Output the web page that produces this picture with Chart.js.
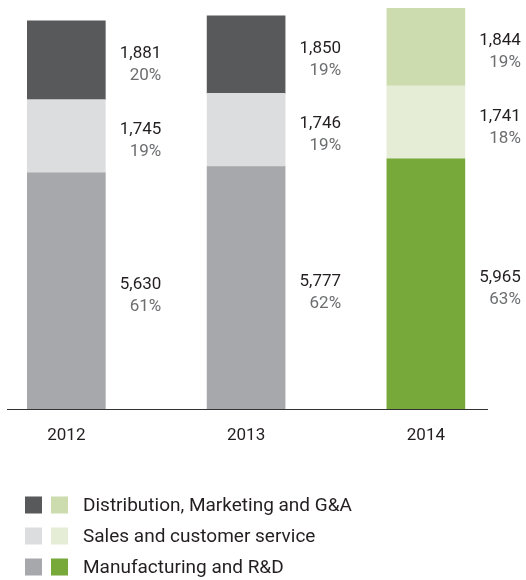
<!DOCTYPE html>
<html>
<head>
<meta charset="utf-8">
<script src="https://cdn.jsdelivr.net/npm/chart.js@4/dist/chart.umd.min.js"></script>
<style>
  html, body { margin: 0; padding: 0; background: #fff; }
  #wrap { width: 526px; height: 580px; position: relative; }
</style>
</head>
<body>
<div id="wrap"><canvas id="c"></canvas></div>
<script>
// Cost breakdown by year (values and their share of the yearly total)
const years = ['2012', '2013', '2014'];
const seriesNames = ['Manufacturing and R&D', 'Sales and customer service', 'Distribution, Marketing and G&A'];
const manufacturing = [5630, 5777, 5965];
const sales = [1745, 1746, 1741];
const distribution = [1881, 1850, 1844];
const manufacturingPct = [61, 62, 63];
const salesPct = [19, 19, 18];
const distributionPct = [20, 19, 19];

// Grey shades for earlier years, green shades for the latest year
const greyShades = ['#a7a8ab', '#dcdddf', '#58595b'];
const greenShades = ['#76a83a', '#e5edd6', '#cddcae'];
const FONT = 'Roboto, "Open Sans", sans-serif';

const seriesValues = [manufacturing, sales, distribution];
const seriesPcts = [manufacturingPct, salesPct, distributionPct];

const datasets = seriesValues.map((vals, s) => ({
  label: seriesNames[s],
  data: vals.map((v, i) => ({ x: i, y: v })),
  pct: seriesPcts[s],
  backgroundColor: years.map((y, i) => i === years.length - 1 ? greenShades[s] : greyShades[s]),
  legendColors: [greyShades[s], greenShades[s]],
  borderWidth: 0,
  barThickness: 78
}));

// Value + percentage written to the right of every segment
const segmentLabels = {
  id: 'segmentLabels',
  afterDatasetsDraw(chart) {
    const ctx = chart.ctx;
    ctx.save();
    ctx.textAlign = 'right';
    ctx.textBaseline = 'middle';
    chart.data.datasets.forEach((ds, di) => {
      const meta = chart.getDatasetMeta(di);
      meta.data.forEach((el, i) => {
        const x = el.x + el.width / 2 + 56;
        const yc = (el.y + el.base) / 2;
        ctx.font = '17px ' + FONT;
        ctx.fillStyle = '#231f20';
        ctx.fillText(ds.data[i].y.toLocaleString('en-US'), x, yc - 6);
        ctx.fillStyle = '#6d6e70';
        ctx.fillText(ds.pct[i] + '%', x, yc + 16);
      });
    });
    ctx.restore();
  }
};

// Legend with a grey and a green swatch per series, top series first
const dualLegend = {
  id: 'dualLegend',
  afterDraw(chart) {
    const ctx = chart.ctx;
    ctx.save();
    ctx.font = '19px ' + FONT;
    ctx.textBaseline = 'middle';
    ctx.textAlign = 'left';
    const items = chart.data.datasets.slice().reverse();
    items.forEach((ds, r) => {
      const cy = 505 + r * 31;
      ctx.fillStyle = ds.legendColors[0];
      ctx.fillRect(25, cy - 8.5, 17, 17);
      ctx.fillStyle = ds.legendColors[1];
      ctx.fillRect(51, cy - 8.5, 17, 17);
      ctx.fillStyle = '#231f20';
      ctx.fillText(ds.label, 83, cy + 1);
    });
    ctx.restore();
  }
};

new Chart(document.getElementById('c'), {
  type: 'bar',
  data: { datasets },
  options: {
    responsive: true,
    maintainAspectRatio: false,
    animation: false,
    layout: { padding: { left: 7, right: 39, top: 0, bottom: 0 } },
    plugins: { legend: { display: false }, tooltip: { enabled: false } },
    scales: {
      x: {
        type: 'linear',
        stacked: true,
        offset: false,
        bounds: 'data',
        min: -0.33,
        max: 2.34,
        grid: { display: false, drawTicks: false, offset: false },
        border: { display: true, color: '#333333', width: 1 },
        afterBuildTicks(scale) {
          scale.ticks = years.map((y, i) => ({ value: i }));
        },
        afterFit(scale) { scale.height = 171; },
        ticks: {
          padding: 17,
          maxRotation: 0,
          autoSkip: false,
          color: '#231f20',
          font: { family: FONT, size: 17 },
          callback: (v) => years[v] ?? ''
        }
      },
      y: {
        stacked: true,
        display: false,
        min: 0,
        max: 9750
      }
    }
  },
  plugins: [segmentLabels, dualLegend]
});
</script>
</body>
</html>
